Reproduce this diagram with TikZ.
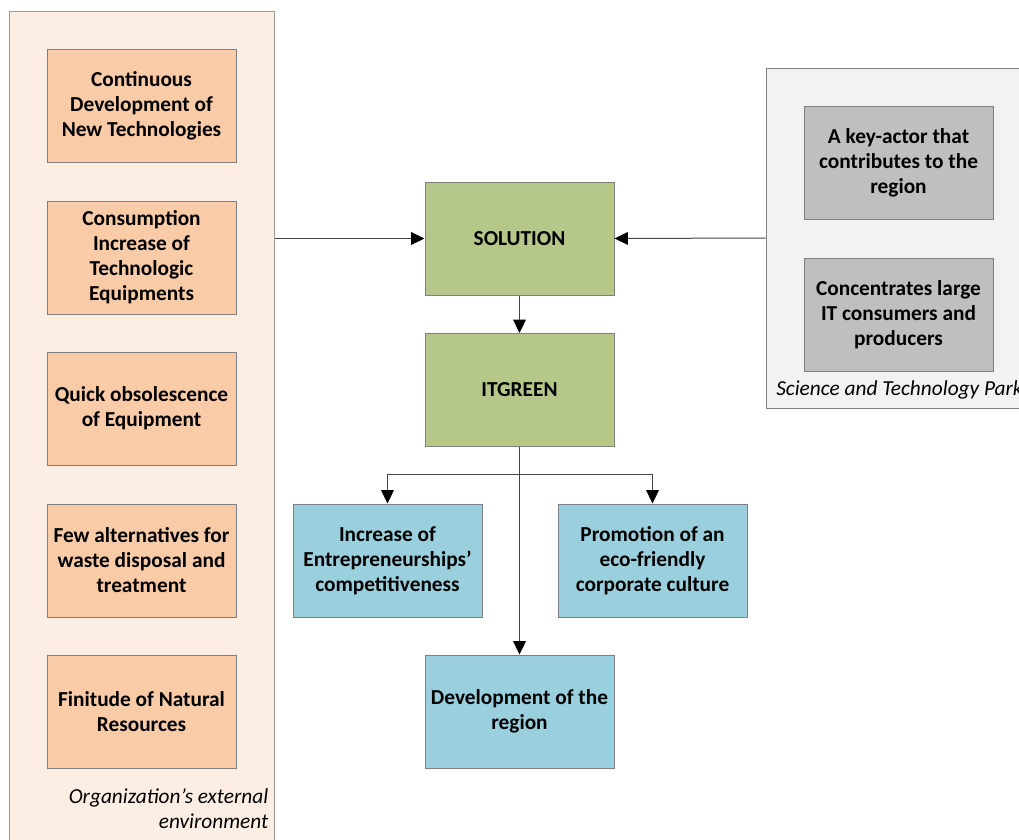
\documentclass[tikz,border=0pt]{standalone}
\usepackage{fontspec}
\setmainfont{Carlito}
\usetikzlibrary{positioning,arrows.meta}
\definecolor{envFill}{HTML}{FDEEE4}
\definecolor{envLine}{HTML}{A09A96}
\definecolor{factorFill}{HTML}{F9CBA7}
\definecolor{parkFill}{HTML}{F2F2F2}
\definecolor{actorFill}{HTML}{BFBFBF}
\definecolor{coreFill}{HTML}{B5C88A}
\definecolor{effectFill}{HTML}{9ACFDD}
\definecolor{boxLine}{HTML}{7F7F7F}
\definecolor{arrowLine}{HTML}{454545}

\begin{document}
\begin{tikzpicture}[
    x=0.75pt, y=-0.75pt,
    baseBox/.style={rectangle, draw=boxLine, line width=0.75pt, font=\bfseries\fontsize{16}{18.75}\selectfont, align=center, minimum width=141.75pt, minimum height=84.75pt, inner sep=1pt},
    factorBox/.style={baseBox, fill=factorFill},
    actorBox/.style={baseBox, fill=actorFill},
    coreBox/.style={baseBox, fill=coreFill},
    effectBox/.style={baseBox, fill=effectFill},
    frameBox/.style={rectangle, line width=0.75pt, inner sep=0pt},
    frameLabel/.style={font=\itshape\fontsize{16}{18.75}\selectfont, inner sep=0pt},
    arrowStyle/.style={-{Triangle[length=10pt, width=9.5pt, color=black]}, line width=0.75pt, draw=arrowLine}
]
    \path[use as bounding box, clip] (0,0) rectangle (1019,839);

    % containers
    \node[frameBox, draw=envLine, fill=envFill, minimum width=198.75pt, minimum height=629.25pt] (env) at (141.5, 430.5) {};
    \node[frameBox, draw=boxLine, fill=parkFill, minimum width=198pt, minimum height=255pt] (park) at (898, 238) {};

    % external factors
    \node[factorBox] (newTech) at (141.5, 105.5) {Continuous\\Development of\\New Technologies};
    \node[factorBox] (consumption) at (141.5, 257.5) {Consumption\\Increase of\\Technologic\\Equipments};
    \node[factorBox] (obsolescence) at (141.5, 408.5) {Quick obsolescence\\of Equipment};
    \node[factorBox] (waste) at (141.5, 560.5) {Few alternatives for\\waste disposal and\\treatment};
    \node[factorBox] (resources) at (141.5, 711.5) {Finitude of Natural\\Resources};
    \node[frameLabel, align=right, anchor=north east] (envLabel) at (268.5, 788) {Organization's external\\environment};

    % science park
    \node[actorBox] (keyActor) at (898.5, 162.5) {A key-actor that\\contributes to the\\region};
    \node[actorBox] (consumers) at (898.5, 314.5) {Concentrates large\\IT consumers and\\producers};
    \node[frameLabel, anchor=west] (parkLabel) at (776, 390) {Science and Technology Park};

    % core
    \node[coreBox] (solution) at (519.5, 238.5) {SOLUTION};
    \node[coreBox] (itgreen) at (519.5, 390) {ITGREEN};

    % effects
    \node[effectBox] (competitiveness) at (387.5, 560.5) {Increase of\\Entrepreneurships'\\competitiveness};
    \node[effectBox] (culture) at (652.5, 560.5) {Promotion of an\\eco-friendly\\corporate culture};
    \node[effectBox] (region) at (519.5, 711.5) {Development of the\\region};

    \draw[arrowStyle] (env.east |- solution) -- (solution.west);
    \draw[arrowStyle] (park.west) -- (solution.east);
    \draw[arrowStyle] (solution.south) -- (itgreen.north);

    \coordinate (split) at (519.5, 474);
    \draw[line width=0.75pt, draw=arrowLine] (itgreen.south) -- (split);
    \draw[arrowStyle] (split) -| (competitiveness.north);
    \draw[arrowStyle] (split) -| (culture.north);
    \draw[arrowStyle] (itgreen.south) -- (region.north);
\end{tikzpicture}
\end{document}
